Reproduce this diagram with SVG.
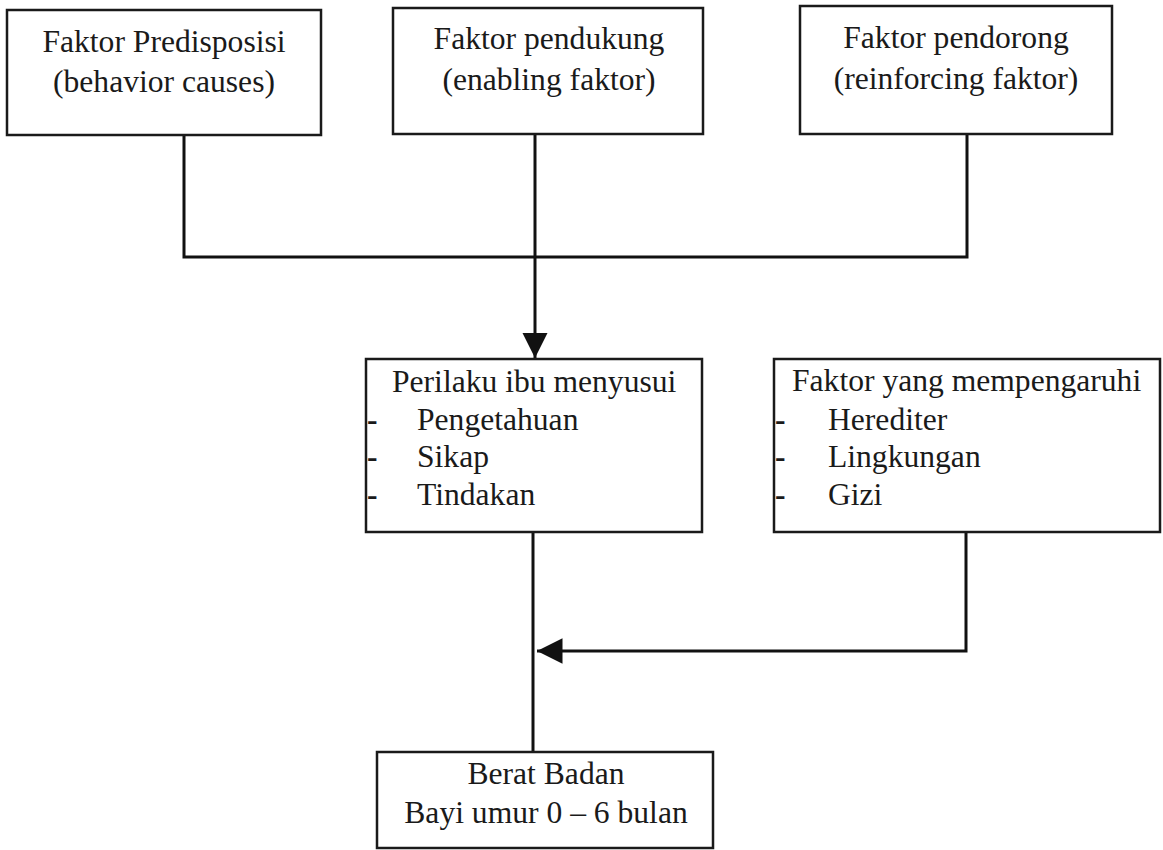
<svg xmlns="http://www.w3.org/2000/svg" width="1163" height="850" viewBox="0 0 1163 850">
<style>
.box{fill:#fff;stroke:#1a1a1a;stroke-width:2.5}
.t{font-family:"Liberation Serif","Times New Roman",serif;font-size:31.6px;fill:#1a1a1a}
.c{text-anchor:middle}
.d{font-family:"Liberation Serif","Times New Roman",serif;font-size:31.6px;fill:#1a1a1a;font-weight:bold}
.ln{fill:none;stroke:#111;stroke-width:3}
</style>
<defs>
<marker id="ah" viewBox="0 0 10 10" refX="10" refY="5" markerWidth="8.5" markerHeight="9" markerUnits="strokeWidth" orient="auto">
<path d="M0,0 L10,5 L0,10 z" fill="#111"/>
</marker>
</defs>
<rect width="1163" height="850" fill="#fff"/>
<g id="connectors">
<polyline class="ln" points="184,135 184,257 967,257 967,134"/>
<line class="ln" x1="535" y1="134" x2="535" y2="358" marker-end="url(#ah)"/>
<line class="ln" x1="533" y1="532" x2="533" y2="752"/>
<polyline class="ln" points="966,532 966,651 537,651" marker-end="url(#ah)"/>
</g>
<g id="node-predisposisi">
<rect class="box" x="7" y="10" width="314" height="125"/>
<text class="t c" x="164" y="52">Faktor Predisposisi</text>
<text class="t c" x="164" y="92">(behavior causes)</text>
</g>
<g id="node-pendukung">
<rect class="box" x="393" y="8" width="310" height="126"/>
<text class="t c" x="549" y="49">Faktor pendukung</text>
<text class="t c" x="549" y="90">(enabling faktor)</text>
</g>
<g id="node-pendorong">
<rect class="box" x="800" y="6" width="312" height="128"/>
<text class="t c" x="956" y="48">Faktor pendorong</text>
<text class="t c" x="956" y="89">(reinforcing faktor)</text>
</g>
<g id="node-perilaku">
<rect class="box" x="366" y="359" width="336" height="173"/>
<text class="t" x="392" y="392">Perilaku ibu menyusui</text>
<text class="d" x="367" y="430">-</text>
<text class="t" x="417" y="430">Pengetahuan</text>
<text class="d" x="367" y="467">-</text>
<text class="t" x="417" y="467">Sikap</text>
<text class="d" x="367" y="505">-</text>
<text class="t" x="417" y="505">Tindakan</text>
</g>
<g id="node-faktor-mempengaruhi">
<rect class="box" x="774" y="359" width="386" height="173"/>
<text class="t" x="792" y="391">Faktor yang mempengaruhi</text>
<text class="d" x="775" y="430">-</text>
<text class="t" x="828" y="430">Herediter</text>
<text class="d" x="775" y="467">-</text>
<text class="t" x="828" y="467">Lingkungan</text>
<text class="d" x="775" y="505">-</text>
<text class="t" x="828" y="505">Gizi</text>
</g>
<g id="node-berat-badan">
<rect class="box" x="377" y="752" width="336" height="96"/>
<text class="t c" x="546" y="784">Berat Badan</text>
<text class="t c" x="546" y="823">Bayi umur 0 – 6 bulan</text>
</g>
</svg>
